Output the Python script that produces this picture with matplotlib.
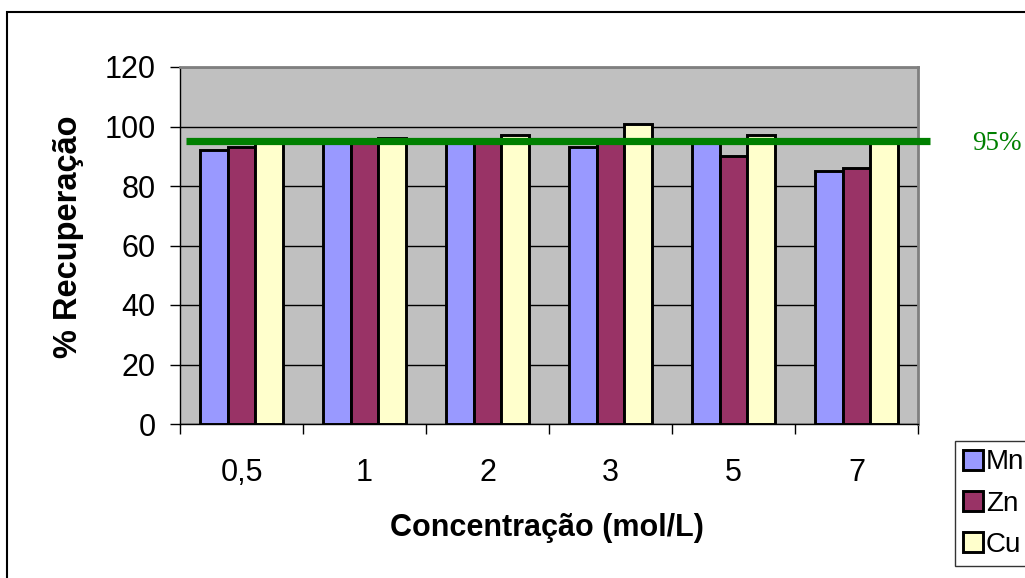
import numpy as np
import matplotlib
matplotlib.use("Agg")
import matplotlib.pyplot as plt
from matplotlib.patches import Rectangle

# recovery (%) for each metal at each acid concentration
concentracoes = ["0,5", "1", "2", "3", "5", "7"]
mn = [92, 95, 95, 93, 95, 85]
zn = [93, 95, 95, 95, 90, 86]
cu = [95, 96, 97, 101, 97, 95]
metais = ["Mn", "Zn", "Cu"]
cores = ["#9999FF", "#993366", "#FFFFCC"]
limite = 95

plt.rcParams['font.family'] = ['Liberation Sans', 'DejaVu Sans']

fig = plt.figure(figsize=(10.25, 5.78), dpi=100)
ax = fig.add_axes([180/1025, 1-424/578, 738/1025, 357/578])
ax.set_facecolor("#C0C0C0")

x = np.arange(len(concentracoes))
w = 0.225
for i, (vals, cor, nome) in enumerate(zip([mn, zn, cu], cores, metais)):
    ax.bar(x + (i-1)*w, vals, w, color=cor, edgecolor="black", linewidth=2.1,
           label=nome, zorder=3)

# 95% reference line, running a bit past the plot area
ax.plot([-0.45, 5.6], [limite, limite], color="#008000", lw=5.2,
        solid_capstyle="butt", clip_on=False, zorder=4)
fig.text(972/1025, 1-144/578, "95%", color="#008000", fontsize=19.5,
         family=["Liberation Serif", "DejaVu Serif"], va="center", ha="left")

ax.set_xlim(-0.5, len(concentracoes)-0.5)
ax.set_ylim(0, 120)
ax.set_yticks(range(0, 121, 20))
ax.yaxis.grid(True, color="black", lw=1, zorder=1)
ax.set_axisbelow(True)

ax.set_xticks(np.arange(-0.5, len(concentracoes), 1))
ax.set_xticklabels([])
ax.set_xticks(x, minor=True)
ax.set_xticklabels(concentracoes, minor=True)
ax.tick_params(axis="x", which="major", direction="out", length=7.5, width=1)
ax.tick_params(axis="x", which="minor", length=0, pad=24.5, labelsize=22)
ax.tick_params(axis="y", direction="out", length=7.5, width=1, pad=10,
               labelsize=22)

for s in ["top", "right"]:
    ax.spines[s].set_color("#808080")
    ax.spines[s].set_linewidth(2)
for s in ["left", "bottom"]:
    ax.spines[s].set_color("black")
    ax.spines[s].set_linewidth(1)

fig.text(547/1025, 1-536/578, "Concentração (mol/L)", fontsize=22,
         fontweight="bold", ha="center", va="baseline")
fig.text(68/1025, 1-237/578, "% Recuperação", fontsize=23.5, fontweight="bold",
         rotation=90, ha="center", va="center")

leg = fig.legend(loc="upper left", bbox_to_anchor=(955/1025, 1-441/578),
                 fontsize=20, frameon=True, fancybox=False, shadow=False,
                 edgecolor="black", borderpad=0.3, labelspacing=0.55,
                 handlelength=0.72, handleheight=0.72, handletextpad=0.1,
                 borderaxespad=0)
leg.get_frame().set_linewidth(1)

# outer chart frame
fig.patches.append(Rectangle((7/1025, -0.01), 1.1, 1-12/578+0.01,
                             transform=fig.transFigure, fill=False,
                             edgecolor="black", lw=1.5))

fig.savefig("out.png", dpi=100)
